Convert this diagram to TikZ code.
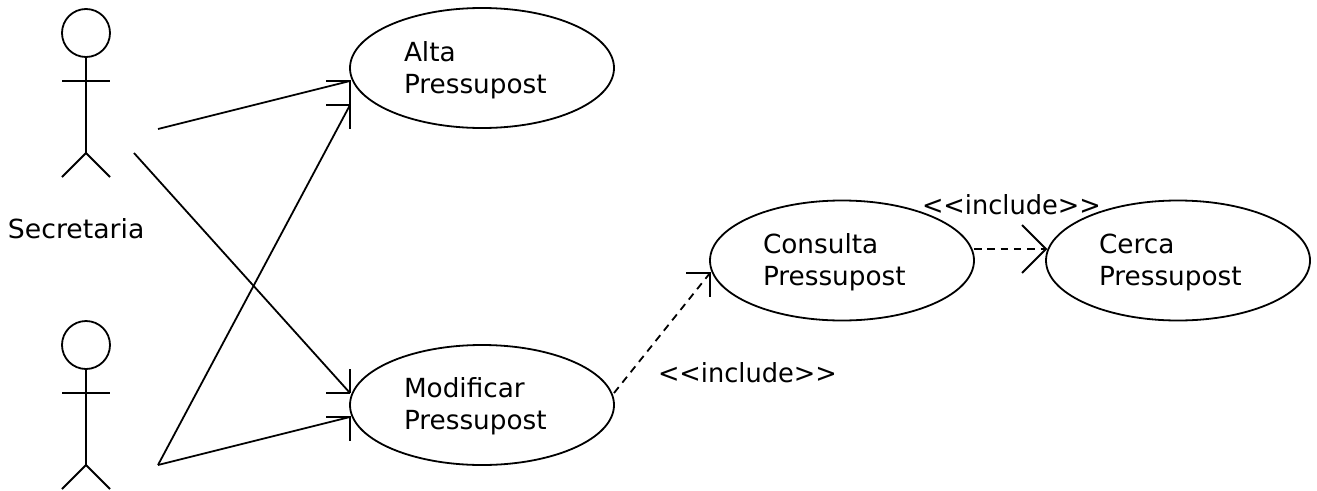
\documentclass[tikz,border=0pt]{standalone}
\usepackage{fontspec}
\setmainfont{DejaVu Sans}
\usetikzlibrary{shapes.geometric}
\tikzset{
  ln/.style={line width=1.8pt,draw=black,line cap=butt,line join=miter},
  usecase/.style={ellipse,draw=black,line width=1.8pt,minimum width=264pt,minimum height=120pt,inner sep=0pt,outer sep=0pt},
  txt/.style={anchor=base west,inner sep=0pt,outer sep=0pt,align=left,font=\fontsize{26.3}{32}\selectfont},
  dashln/.style={ln,dash pattern=on 7.5pt off 5.8pt},
  headc/.style={circle,draw=black,line width=1.8pt,minimum size=48pt,inner sep=0pt,outer sep=0pt}
}
\begin{document}
\begin{tikzpicture}[x=1pt,y=-1pt]
\useasboundingbox (0,0) rectangle (1317,490);
% use cases
\node[usecase] (alta) at (482,68) {};
\node[usecase] (modif) at (482,405) {};
\node[usecase] (cons) at (842,260.5) {};
\node[usecase] (cerca) at (1178,260.5) {};
% use case texts
\node[txt] (taltaA) at (404,61) {Alta};
\node[txt] (taltaB) at (404,93) {Pressupost};
\node[txt] (tmodA) at (404,397) {Modificar};
\node[txt] (tmodB) at (404,429) {Pressupost};
\node[txt] (tconsA) at (763,253) {Consulta};
\node[txt] (tconsB) at (763,285) {Pressupost};
\node[txt] (tcerA) at (1099,253) {Cerca};
\node[txt] (tcerB) at (1099,285) {Pressupost};
\node[txt] (sec) at (8,238) {\scalebox{1.015}[1]{Secretaria}};
\node[txt] (incA) at (922,214) {\scalebox{.975}[1]{<{}<include>{}>}};
\node[txt] (incB) at (658,382) {\scalebox{.975}[1]{<{}<include>{}>}};
% actor 1
\node[headc] (head1) at (86,33) {};
\coordinate (hip1) at (86,153);
\draw[ln] (head1.south) -- (hip1);
\coordinate (armL1) at (62,81); \coordinate (armR1) at (110,81);
\draw[ln] (armL1) -- (armR1);
\coordinate (legL1) at (62,177); \coordinate (legR1) at (110,177);
\draw[ln] (legL1) -- (hip1) -- (legR1);
% actor 2
\node[headc] (head2) at (86,345) {};
\coordinate (hip2) at (86,465);
\draw[ln] (head2.south) -- (hip2);
\coordinate (armL2) at (62,393); \coordinate (armR2) at (110,393);
\draw[ln] (armL2) -- (armR2);
\coordinate (legL2) at (62,489); \coordinate (legR2) at (110,489);
\draw[ln] (legL2) -- (hip2) -- (legR2);
% connector ends
\coordinate (s1a) at (158,129);
\coordinate (s1b) at (134,153);
\coordinate (s2) at (158,465);
\coordinate (e1) at (350,81);
\coordinate (e2) at (350,105);
\coordinate (e3) at (350,393);
\coordinate (e4) at (350,417);
\coordinate (e5) at (710,273);
\coordinate (e6) at (1046,249);
\coordinate (s5) at (614,393);
\coordinate (s6) at (974,249);
% connectors
\draw[ln] (s1a) -- (e1);
\draw[ln] (s1b) -- (e3);
\draw[ln] (s2) -- (e2);
\draw[ln] (s2) -- (e4);
\draw[dashln] (s5) -- (e5);
\draw[dashln] (s6) -- (e6);
% open arrowheads
\draw[ln] (326,81) -- (e1) -- (350,129);
\draw[ln] (326,105) -- (e2);
\draw[ln] (326,393) -- (e3);
\draw[ln] (350,369) -- (e3);
\draw[ln] (326,417) -- (e4) -- (350,441);
\draw[ln] (686,273) -- (e5) -- (710,297);
\draw[ln] (1022,225) -- (e6) -- (1022,273);
\end{tikzpicture}
\end{document}
